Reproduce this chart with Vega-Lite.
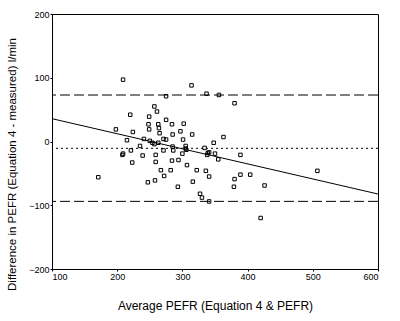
{
  "$schema": "https://vega.github.io/schema/vega-lite/v6.json",
  "autosize": "none",
  "width": 326,
  "height": 255,
  "padding": {"left": 52, "top": 14, "right": 22, "bottom": 52},
  "background": "white",
  "config": {
    "view": {"stroke": "black", "strokeWidth": 1},
    "axis": {"grid": false, "domainColor": "black", "tickColor": "black", "labelColor": "black", "titleColor": "black", "labelFont": "Liberation Sans", "titleFont": "Liberation Sans", "labelFontSize": 9, "titleFontSize": 12, "titleFontWeight": "normal", "tickSize": 2, "labelPadding": 1}
  },
  "datasets": {
    "pts": [
      {"avg": 209, "diff": 97}, {"avg": 314, "diff": 88}, {"avg": 337, "diff": 75}, {"avg": 356, "diff": 73},
      {"avg": 275, "diff": 71}, {"avg": 380, "diff": 60}, {"avg": 257, "diff": 55}, {"avg": 261, "diff": 47},
      {"avg": 220, "diff": 42}, {"avg": 249, "diff": 39}, {"avg": 275, "diff": 34}, {"avg": 248, "diff": 27},
      {"avg": 263, "diff": 27}, {"avg": 284, "diff": 27}, {"avg": 302, "diff": 28}, {"avg": 264, "diff": 21},
      {"avg": 249, "diff": 19}, {"avg": 198, "diff": 19}, {"avg": 297, "diff": 16}, {"avg": 224, "diff": 15},
      {"avg": 265, "diff": 13}, {"avg": 285, "diff": 11}, {"avg": 315, "diff": 11}, {"avg": 363, "diff": 7},
      {"avg": 241, "diff": 4}, {"avg": 271, "diff": 4}, {"avg": 275, "diff": 3}, {"avg": 301, "diff": 3},
      {"avg": 215, "diff": 2}, {"avg": 250, "diff": 1}, {"avg": 254, "diff": -2}, {"avg": 263, "diff": -2},
      {"avg": 257, "diff": -4}, {"avg": 348, "diff": -2}, {"avg": 235, "diff": -7}, {"avg": 285, "diff": -8},
      {"avg": 305, "diff": -7}, {"avg": 334, "diff": -10}, {"avg": 305, "diff": -11}, {"avg": 286, "diff": -14},
      {"avg": 271, "diff": -14}, {"avg": 306, "diff": -13}, {"avg": 221, "diff": -14}, {"avg": 339, "diff": -18},
      {"avg": 341, "diff": -17}, {"avg": 350, "diff": -19}, {"avg": 300, "diff": -19}, {"avg": 209, "diff": -19},
      {"avg": 208, "diff": -21}, {"avg": 259, "diff": -21}, {"avg": 338, "diff": -21}, {"avg": 389, "diff": -21},
      {"avg": 239, "diff": -22}, {"avg": 355, "diff": -28}, {"avg": 294, "diff": -29}, {"avg": 284, "diff": -30},
      {"avg": 259, "diff": -32}, {"avg": 223, "diff": -33}, {"avg": 307, "diff": -37}, {"avg": 267, "diff": -45},
      {"avg": 282, "diff": -45}, {"avg": 322, "diff": -45}, {"avg": 336, "diff": -46}, {"avg": 507, "diff": -46},
      {"avg": 389, "diff": -52}, {"avg": 404, "diff": -52}, {"avg": 272, "diff": -54}, {"avg": 341, "diff": -55},
      {"avg": 171, "diff": -56}, {"avg": 380, "diff": -59}, {"avg": 258, "diff": -61}, {"avg": 316, "diff": -63},
      {"avg": 247, "diff": -64}, {"avg": 426, "diff": -69}, {"avg": 293, "diff": -71}, {"avg": 379, "diff": -71},
      {"avg": 327, "diff": -82}, {"avg": 330, "diff": -88}, {"avg": 341, "diff": -94}, {"avg": 420, "diff": -120}
    ],
    "fit": [{"avg": 100, "diff": 35.8}, {"avg": 600, "diff": -82.4}],
    "refs": [
      {"y": 72.9, "kind": "limit"}, {"y": -93.9, "kind": "limit"}, {"y": -10.7, "kind": "mean"}
    ]
  },
  "layer": [
    {
      "data": {"name": "refs"},
      "transform": [{"filter": "datum.kind === 'limit'"}],
      "mark": {"type": "rule", "color": "black", "strokeWidth": 1, "strokeDash": [10, 4]},
      "encoding": {"y": {"field": "y", "type": "quantitative", "scale": {"domain": [-200, 200]}}}
    },
    {
      "data": {"name": "refs"},
      "transform": [{"filter": "datum.kind === 'mean'"}],
      "mark": {"type": "rule", "color": "black", "strokeWidth": 1, "strokeDash": [2, 3]},
      "encoding": {"y": {"field": "y", "type": "quantitative"}}
    },
    {
      "data": {"name": "fit"},
      "mark": {"type": "line", "color": "black", "strokeWidth": 1},
      "encoding": {
        "x": {"field": "avg", "type": "quantitative"},
        "y": {"field": "diff", "type": "quantitative"}
      }
    },
    {
      "data": {"name": "pts"},
      "mark": {"type": "point", "shape": "square", "filled": false, "color": "black", "size": 12, "strokeWidth": 1, "opacity": 1},
      "encoding": {
        "x": {"field": "avg", "type": "quantitative", "scale": {"domain": [100, 600], "nice": false, "zero": false},
              "axis": {"values": [100, 200, 300, 400, 500, 600], "title": "Average PEFR (Equation 4 & PEFR)", "titlePadding": 19}},
        "y": {"field": "diff", "type": "quantitative", "scale": {"domain": [-200, 200], "nice": false, "zero": false},
              "axis": {"values": [-200, -100, 0, 100, 200], "title": "Difference in PEFR (Equation 4 - measured) l/min", "titleFontSize": 11.5, "titleX": -40, "titleY": 150, "titleAlign": "center", "titleBaseline": "middle", "titleAngle": -90}}
      }
    }
  ]
}
